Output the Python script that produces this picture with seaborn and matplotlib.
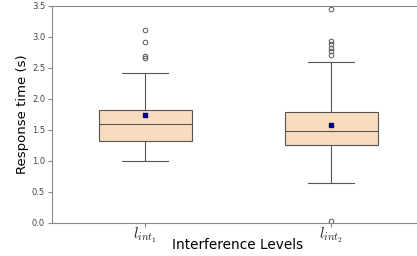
import numpy as np
import pandas as pd
import matplotlib
matplotlib.use("Agg")
import matplotlib.pyplot as plt
import seaborn as sns

# response times (s) per interference level
levels = ["l1", "l2"]
tick_labels = ["$l_{int_1}$", "$l_{int_2}$"]

rt_level1 = [1.00, 1.02, 1.05, 1.09, 1.14, 1.32, 1.35, 1.39, 1.44, 1.50, 1.59,
             1.64, 1.69, 1.74, 1.78, 1.82, 2.41, 2.65, 2.68, 2.92, 3.11]
rt_level2 = [0.03, 0.65, 0.66, 0.68, 0.70, 0.72, 0.75, 0.79, 0.83, 0.86, 1.25,
             1.27, 1.29, 1.31, 1.33, 1.36, 1.38, 1.41, 1.43, 1.46, 1.48,
             1.50, 1.53, 1.56, 1.59, 1.62, 1.65, 1.69, 1.72, 1.76, 1.79,
             1.90, 2.05, 2.25, 2.59, 2.70, 2.76, 2.82, 2.88, 2.93, 3.44]

df = pd.DataFrame({
    "level": [levels[0]] * len(rt_level1) + [levels[1]] * len(rt_level2),
    "rt": rt_level1 + rt_level2,
})

plt.rcParams["mathtext.fontset"] = "cm"
plt.rcParams["axes.edgecolor"] = "#888888"
plt.rcParams["xtick.color"] = "#888888"
plt.rcParams["ytick.color"] = "#888888"
plt.rcParams["xtick.labelcolor"] = "#222222"
plt.rcParams["ytick.labelcolor"] = "#444444"

fig = plt.figure(figsize=(4.17, 2.56), dpi=100)
ax = fig.add_axes([52 / 417, 33 / 256, 372 / 417, 217.5 / 256])

sns.boxplot(data=df, x="level", y="rt", order=levels, ax=ax,
            color="#F9DCBD", saturation=1, width=0.5, linecolor="#555555",
            linewidth=0.8, showmeans=True,
            meanprops=dict(marker="s", markerfacecolor="navy",
                           markeredgecolor="navy", markersize=3.3),
            flierprops=dict(marker="o", markersize=3.3,
                            markerfacecolor="none", markeredgecolor="#555555",
                            markeredgewidth=0.7))

ax.spines["right"].set_visible(False)
ax.set_ylim(0, 3.5)
ax.set_yticks(np.arange(0, 3.51, 0.5))
ax.tick_params(axis="y", labelsize=6, pad=2, length=3)
ax.tick_params(axis="x", pad=-1, length=3)
ax.set_xticks([0, 1])
ax.set_xticklabels(tick_labels, fontsize=11)
ax.set_xlabel("Interference Levels", fontsize=9.8, labelpad=-5.5)
ax.set_ylabel("Response time (s)", fontsize=9.5, labelpad=2)

fig.savefig("out.png", dpi=100)
